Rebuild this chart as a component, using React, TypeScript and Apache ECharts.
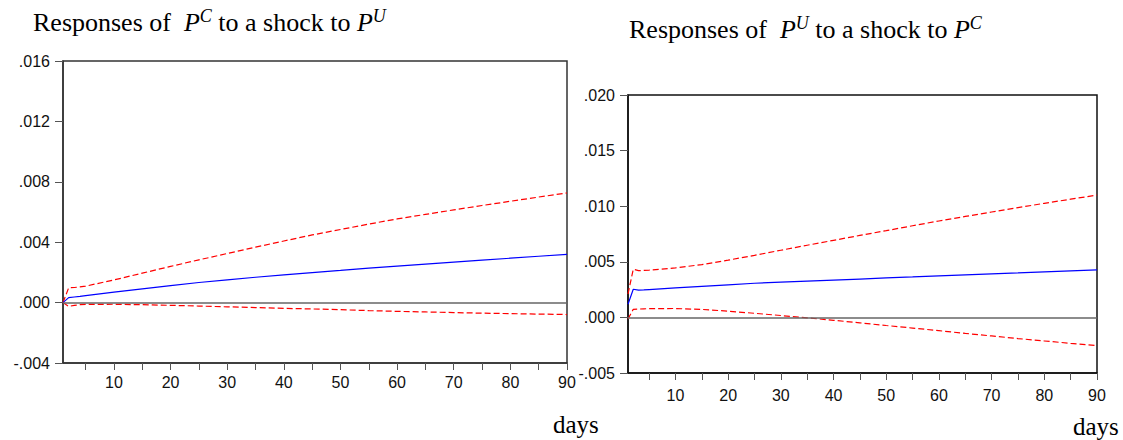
import React, { useEffect, useRef } from 'react';
import * as echarts from 'echarts';

const days = [1, 2, 3, 4, 5, 10, 15, 20, 25, 30, 35, 40, 45, 50, 55, 60, 65, 70, 75, 80, 85, 90];

// Responses of P^C to a shock to P^U
const leftResponse = [0, 0.00033, 0.00037, 0.00041, 0.00046, 0.00069, 0.00091, 0.00113, 0.00133, 0.00151, 0.00168, 0.00184, 0.00199, 0.00213, 0.00228, 0.00242, 0.00255, 0.00268, 0.00281, 0.00294, 0.00307, 0.0032];
const leftUpper = [0, 0.00098, 0.001, 0.00104, 0.00109, 0.0015, 0.00195, 0.0024, 0.00283, 0.00325, 0.00367, 0.00408, 0.00448, 0.00484, 0.0052, 0.00554, 0.00584, 0.00614, 0.00643, 0.00671, 0.00699, 0.00726];
const leftLower = [0, -0.00025, -0.00018, -0.00014, -0.00012, -0.00011, -0.00014, -0.00018, -0.00023, -0.00028, -0.00033, -0.00038, -0.00042, -0.00047, -0.00053, -0.00058, -0.00062, -0.00066, -0.0007, -0.00073, -0.00076, -0.00079];

// Responses of P^U to a shock to P^C
const rightResponse = [0.00118, 0.00253, 0.00245, 0.00247, 0.0025, 0.00265, 0.00279, 0.00293, 0.00307, 0.00317, 0.00327, 0.00336, 0.00345, 0.00355, 0.00364, 0.00374, 0.00383, 0.00392, 0.004, 0.00409, 0.00418, 0.00427];
const rightUpper = [0.0021, 0.00433, 0.00421, 0.00422, 0.00425, 0.00445, 0.00475, 0.00515, 0.00558, 0.00604, 0.00649, 0.00693, 0.00737, 0.0078, 0.00824, 0.00867, 0.00908, 0.00948, 0.00987, 0.01026, 0.01063, 0.011];
const rightLower = [-0.00015, 0.00073, 0.00075, 0.00077, 0.00079, 0.0008, 0.00072, 0.00056, 0.00037, 0.00017, -0.00004, -0.00026, -0.00049, -0.00073, -0.00096, -0.00119, -0.00144, -0.00167, -0.0019, -0.00212, -0.00233, -0.00253];

const xTickValues = [5, 10, 15, 20, 25, 30, 35, 40, 45, 50, 55, 60, 65, 70, 75, 80, 85, 90];
const xLabelValues = [10, 20, 30, 40, 50, 60, 70, 80, 90];

const leftAxis = { min: -0.004, max: 0.016, interval: 0.004 };
const rightAxis = { min: -0.005, max: 0.02, interval: 0.005 };

const SANS = '"Liberation Sans", Arial, sans-serif';
const SERIF = '"Liberation Serif", "Times New Roman", serif';

const fmtY = (v: number) => {
  if (Math.abs(v) < 1e-12) return '.000';
  return v.toFixed(3).replace(/^(-?)0\./, '$1.');
};

const pairs = (arr: number[]) => days.map((d, i) => [d, arr[i]]);

function buildOption() {
  const mkX = (gridIndex: number, color: string, margin: number) => ({
    type: 'value',
    gridIndex,
    min: 1,
    max: 90,
    axisLine: { show: true, onZero: false, lineStyle: { color, width: 1.5 } },
    axisTick: { show: true, inside: false, length: 7, customValues: xTickValues, lineStyle: { color: '#555', width: 1 } },
    axisLabel: { show: true, customValues: xLabelValues, margin, color: '#111', fontSize: 16, fontFamily: SANS },
    splitLine: { show: false },
  });
  const mkY = (gridIndex: number, ax: any, color: string) => ({
    type: 'value',
    gridIndex,
    min: ax.min,
    max: ax.max,
    interval: ax.interval,
    axisLine: { show: true, lineStyle: { color, width: 1.5 } },
    axisTick: { show: true, inside: false, length: 8, lineStyle: { color: '#555', width: 1 } },
    axisLabel: { show: true, margin: 13, color: '#111', fontSize: 16, fontFamily: SANS, formatter: fmtY },
    splitLine: { show: false },
  });
  const line = (idx: number, data: number[], color: string, dashed: boolean, zero = false) => ({
    type: 'line',
    xAxisIndex: idx,
    yAxisIndex: idx,
    data: pairs(data),
    showSymbol: false,
    symbol: 'none',
    silent: true,
    lineStyle: { color, width: 1.2, type: dashed ? [6, 3] : 'solid' },
    z: dashed ? 3 : 4,
    markLine: zero
      ? {
          silent: true,
          symbol: 'none',
          label: { show: false },
          lineStyle: { color: '#666', width: 1.5, type: 'solid' },
          data: [{ yAxis: 0 }],
        }
      : undefined,
  });

  const titleRich = {
    n: { fontFamily: SERIF, fontSize: 26, lineHeight: 30, fill: '#000' },
    p: { fontFamily: SERIF, fontSize: 26, fontStyle: 'italic', lineHeight: 30, fill: '#000' },
    sup: { fontFamily: SERIF, fontSize: 18, fontStyle: 'italic', lineHeight: 20, verticalAlign: 'top', fill: '#000' },
  };

  return {
    animation: false,
    backgroundColor: '#ffffff',
    grid: [
      { left: 63, top: 61, width: 504, height: 302, show: true, borderColor: '#333', borderWidth: 1.5, backgroundColor: 'transparent' },
      { left: 628, top: 95, width: 469, height: 278, show: true, borderColor: '#111', borderWidth: 1.5, backgroundColor: 'transparent' },
    ],
    xAxis: [mkX(0, '#333', 11), mkX(1, '#111', 14)],
    yAxis: [mkY(0, leftAxis, '#333'), mkY(1, rightAxis, '#111')],
    series: [
      line(0, leftLower, '#ff0000', true, true),
      line(0, leftUpper, '#ff0000', true),
      line(0, leftResponse, '#0000ff', false),
      line(1, rightLower, '#ff0000', true, true),
      line(1, rightUpper, '#ff0000', true),
      line(1, rightResponse, '#0000ff', false),
    ],
    graphic: [
      {
        type: 'text', x: 33, y: 22,
        style: {
          text: '{n|Responses of  }{p|P}{sup|C}{n| to a shock to }{p|P}{sup|U}',
          rich: titleRich, align: 'left', verticalAlign: 'middle', fill: '#000',
        },
      },
      {
        type: 'text', x: 629, y: 29,
        style: {
          text: '{n|Responses of  }{p|P}{sup|U}{n| to a shock to }{p|P}{sup|C}',
          rich: titleRich, align: 'left', verticalAlign: 'middle', fill: '#000',
        },
      },
      {
        type: 'text', x: 553, y: 424,
        style: { text: 'days', fontFamily: SERIF, fontSize: 25, fill: '#000', align: 'left', verticalAlign: 'middle' },
      },
      {
        type: 'text', x: 1073, y: 426,
        style: { text: 'days', fontFamily: SERIF, fontSize: 25, fill: '#000', align: 'left', verticalAlign: 'middle' },
      },
    ],
  };
}

export default function App() {
  const ref = useRef<HTMLDivElement>(null);
  useEffect(() => {
    if (!ref.current) return;
    const chart = echarts.init(ref.current, null, { renderer: 'svg' });
    chart.setOption(buildOption() as any);
    return () => chart.dispose();
  }, []);
  return (
    <div
      ref={ref}
      style={{ position: 'fixed', left: 0, top: 0, width: 1123, height: 440, background: '#fff' }}
    />
  );
}
